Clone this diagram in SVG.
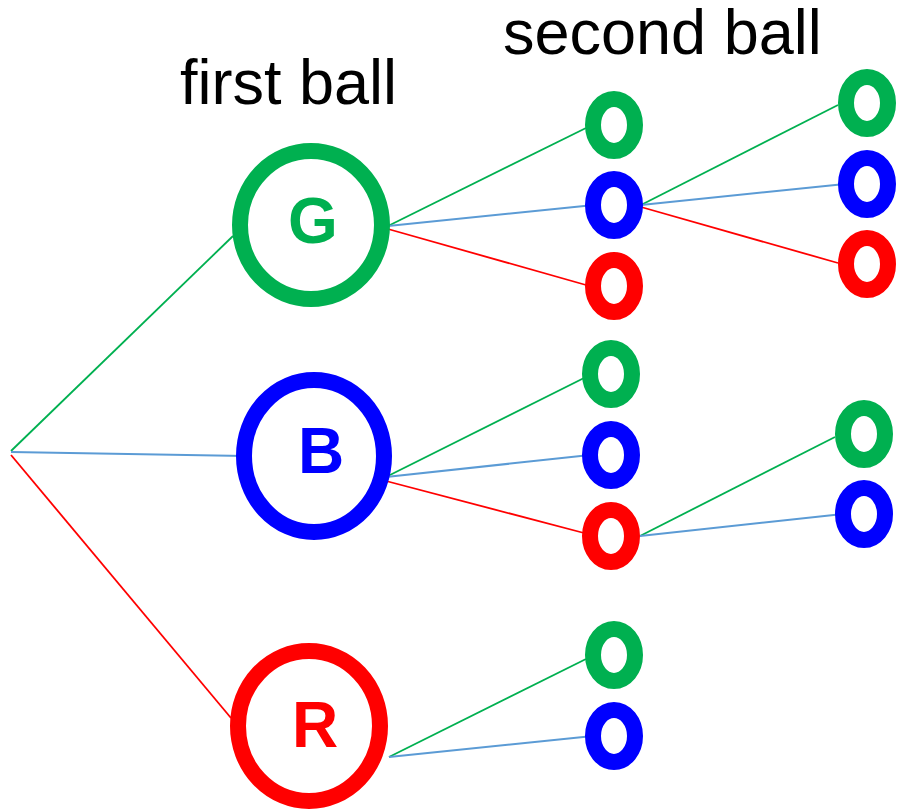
<svg xmlns="http://www.w3.org/2000/svg" width="897" height="812" viewBox="0 0 897 812">
<style>
.lg{stroke:#00B050;stroke-width:1.8;fill:none}
.lb{stroke:#5B9BD5;stroke-width:2;fill:none}
.lr{stroke:#FF0000;stroke-width:1.8;fill:none}
.big{fill:none;stroke-width:16}
.sm{fill:none;stroke-width:16}
.g{stroke:#00B050}.b{stroke:#0000FF}.r{stroke:#FF0000}
.lbl{font-family:"Liberation Sans",Arial,sans-serif;font-size:63px;fill:#000}
.let{font-family:"Liberation Sans",Arial,sans-serif;font-weight:bold;font-size:64px;text-anchor:middle}
</style>
<rect width="897" height="812" fill="#fff"/>
<g id="connectors">
<line class="lg" x1="11" y1="451" x2="233" y2="236"/>
<line class="lb" x1="11" y1="452" x2="245" y2="456"/>
<line class="lr" x1="11" y1="455" x2="231" y2="718"/>
<line class="lg" x1="388" y1="226" x2="586" y2="128"/>
<line class="lb" x1="388" y1="226" x2="594" y2="205"/>
<line class="lr" x1="388" y1="229" x2="586" y2="285"/>
<line class="lg" x1="641" y1="205" x2="838" y2="105"/>
<line class="lb" x1="641" y1="205" x2="845" y2="184"/>
<line class="lr" x1="641" y1="207" x2="838" y2="263"/>
<line class="lg" x1="386" y1="477" x2="584" y2="378"/>
<line class="lb" x1="386" y1="477" x2="590" y2="455"/>
<line class="lr" x1="386" y1="481" x2="584" y2="533"/>
<line class="lg" x1="640" y1="536" x2="835" y2="437"/>
<line class="lb" x1="640" y1="536" x2="843" y2="514"/>
<line class="lg" x1="389" y1="757" x2="586" y2="659"/>
<line class="lb" x1="389" y1="757" x2="593" y2="736"/>
</g>
<text class="lbl" x="180" y="104">first ball</text>
<text class="lbl" x="503" y="54">second ball</text>
<g id="G1"><ellipse class="big g" cx="311" cy="225" rx="71" ry="74"/><text class="let" x="313" y="243" fill="#00B050">G</text></g>
<g id="B1"><ellipse class="big b" cx="314" cy="456" rx="70" ry="76"/><text class="let" x="321" y="473" fill="#0000FF">B</text></g>
<g id="R1"><ellipse class="big r" cx="309" cy="726" rx="71" ry="75"/><text class="let" x="315" y="747" fill="#FF0000">R</text></g>
<g id="GG"><ellipse class="sm g" cx="614" cy="125" rx="21" ry="26"/></g>
<g id="GB"><ellipse class="sm b" cx="614" cy="205" rx="21" ry="26"/></g>
<g id="GR"><ellipse class="sm r" cx="614" cy="286" rx="21" ry="26"/></g>
<g id="GBG"><ellipse class="sm g" cx="867" cy="103" rx="21" ry="26"/></g>
<g id="GBB"><ellipse class="sm b" cx="867" cy="184" rx="21" ry="26"/></g>
<g id="GBR"><ellipse class="sm r" cx="867" cy="264" rx="21" ry="26"/></g>
<g id="BG"><ellipse class="sm g" cx="611" cy="374" rx="21" ry="26"/></g>
<g id="BB"><ellipse class="sm b" cx="611" cy="455" rx="21" ry="26"/></g>
<g id="BR"><ellipse class="sm r" cx="611" cy="536" rx="21" ry="26"/></g>
<g id="BRG"><ellipse class="sm g" cx="864" cy="434" rx="21" ry="26"/></g>
<g id="BRB"><ellipse class="sm b" cx="864" cy="514" rx="21" ry="26"/></g>
<g id="RG"><ellipse class="sm g" cx="614" cy="655" rx="21" ry="26"/></g>
<g id="RB"><ellipse class="sm b" cx="614" cy="736" rx="21" ry="26"/></g>
</svg>
